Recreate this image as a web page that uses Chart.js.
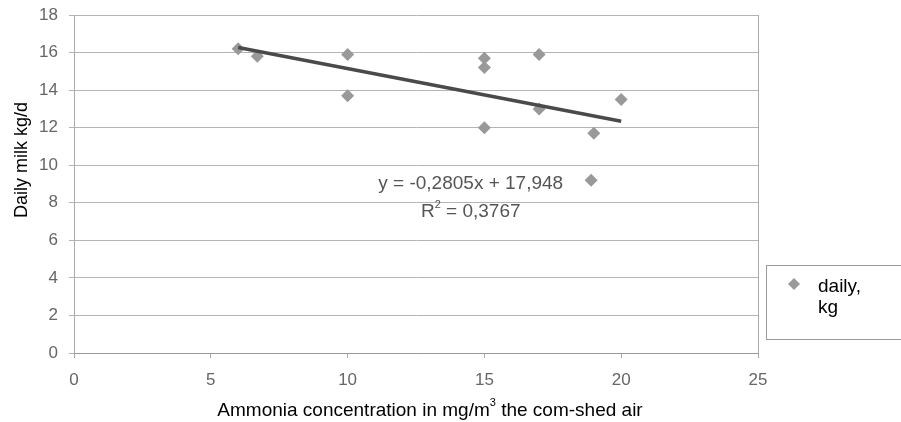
<!DOCTYPE html>
<html>
<head>
<meta charset="utf-8">
<script src="https://cdn.jsdelivr.net/npm/chart.js@4"></script>
<style>
  html, body { margin: 0; padding: 0; background: #fff; }
  #wrap { position: relative; width: 901px; height: 422px; }
</style>
</head>
<body>
<div id="wrap"><canvas id="myChart" width="901" height="422"></canvas></div>
<script>
'use strict';

/* DATA */

const ammonia = [6, 6.7, 10, 10, 15, 15, 15, 17, 17, 19, 18.9, 20];
const dailyMilk = [16.2, 15.8, 15.9, 13.7, 15.7, 15.2, 12.0, 15.9, 13.0, 11.7, 9.2, 13.5];
const trendSlope = -0.2805;
const trendIntercept = 17.948;
const trendRange = [6, 20];
const equationLines = ['y = -0,2805x + 17,948', 'R', '2', ' = 0,3767'];
const xTitle = ['Ammonia concentration in mg/m', '3', ' the com-shed air'];
const yTitle = 'Daily milk kg/d';
const legendLines = ['daily,', 'kg'];

/* CHART */

const FONT = 'Arial, "Liberation Sans", sans-serif';
const points = ammonia.map(function(x, i) { return { x: x, y: dailyMilk[i] }; });
const trend = trendRange.map(function(x) { return { x: x, y: trendIntercept + trendSlope * x }; });

// draw text pieces in a row, the middle one as a superscript
function supText(c, parts, cx, cy, size) {
  c.font = size + 'px ' + FONT;
  const w0 = c.measureText(parts[0]).width;
  const w2 = c.measureText(parts[2]).width;
  c.font = Math.round(size * 0.6) + 'px ' + FONT;
  const w1 = c.measureText(parts[1]).width;
  let x = cx - (w0 + w1 + w2) / 2;
  c.textAlign = 'left';
  c.font = size + 'px ' + FONT;
  c.fillText(parts[0], x, cy);
  x += w0;
  c.font = Math.round(size * 0.6) + 'px ' + FONT;
  c.fillText(parts[1], x, cy - size * 0.4);
  x += w1;
  c.font = size + 'px ' + FONT;
  c.fillText(parts[2], x, cy);
}

// titles, equation and the boxed legend on the right
const extras = {
  id: 'extras',
  afterDraw: function(chart) {
    const c = chart.ctx;
    const xs = chart.scales.x, ys = chart.scales.y;
    const area = chart.chartArea;
    c.save();

    // right border of the plot
    c.strokeStyle = '#aaa';
    c.lineWidth = 1;
    c.beginPath();
    c.moveTo(Math.round(area.right) + 0.5, area.top);
    c.lineTo(Math.round(area.right) + 0.5, area.bottom);
    c.stroke();

    c.textBaseline = 'middle';
    c.fillStyle = '#555';
    c.textAlign = 'center';
    c.font = '19px ' + FONT;
    const ex = xs.getPixelForValue(14.5);
    c.fillText(equationLines[0], ex, ys.getPixelForValue(9.0));
    supText(c, equationLines.slice(1), ex, ys.getPixelForValue(7.5), 19);

    c.fillStyle = '#000';
    supText(c, xTitle, 430, 411, 19);

    c.save();
    c.translate(22, 160);
    c.rotate(-Math.PI / 2);
    c.textAlign = 'center';
    c.font = '18px ' + FONT;
    c.fillText(yTitle, 0, 0);
    c.restore();

    // legend box
    c.strokeStyle = '#999';
    c.lineWidth = 1;
    c.strokeRect(766.5, 265.5, 140, 74);
    c.fillStyle = '#999';
    c.beginPath();
    c.moveTo(794, 278); c.lineTo(800, 284); c.lineTo(794, 290); c.lineTo(788, 284);
    c.closePath(); c.fill();
    c.fillStyle = '#000';
    c.textAlign = 'left';
    c.font = '19px ' + FONT;
    c.fillText(legendLines[0], 818, 287);
    c.fillText(legendLines[1], 818, 308);
    c.restore();
  }
};

const ctx = document.getElementById('myChart').getContext('2d');
const chart = new Chart(ctx, {
  type: 'scatter',
  data: {
    datasets: [
      {
        label: 'daily, kg',
        data: points,
        pointStyle: 'rectRot',
        pointRadius: 6.5,
        backgroundColor: '#999',
        borderColor: '#999',
        borderWidth: 0,
        order: 2
      },
      {
        label: 'trend',
        type: 'line',
        data: trend,
        borderColor: '#4a4a4a',
        borderWidth: 3.5,
        pointRadius: 0,
        fill: false,
        order: 1
      }
    ]
  },
  plugins: [extras],
  options: {
    responsive: false,
    animation: false,
    layout: { padding: { top: 15, right: 143, left: 0, bottom: 0 } },
    plugins: {
      legend: { display: false },
      tooltip: { enabled: false }
    },
    scales: {
      x: {
        type: 'linear',
        min: 0, max: 25,
        ticks: { stepSize: 5, color: '#666', font: { size: 17, family: FONT }, padding: 12 },
        grid: { display: true, drawOnChartArea: false, color: '#aaa', tickLength: 5 },
        border: { color: '#999' },
        afterFit: function(s) { s.height = 69; s.paddingLeft = 0; s.paddingRight = 0; }
      },
      y: {
        min: 0, max: 18,
        ticks: { stepSize: 2, color: '#666', font: { size: 17, family: FONT }, padding: 11 },
        grid: { color: '#b4b4b4', tickLength: 5 },
        border: { color: '#aaa' },
        afterFit: function(s) { s.width = 74; s.paddingTop = 0; s.paddingBottom = 0; }
      }
    }
  }
});
</script>
</body>
</html>
